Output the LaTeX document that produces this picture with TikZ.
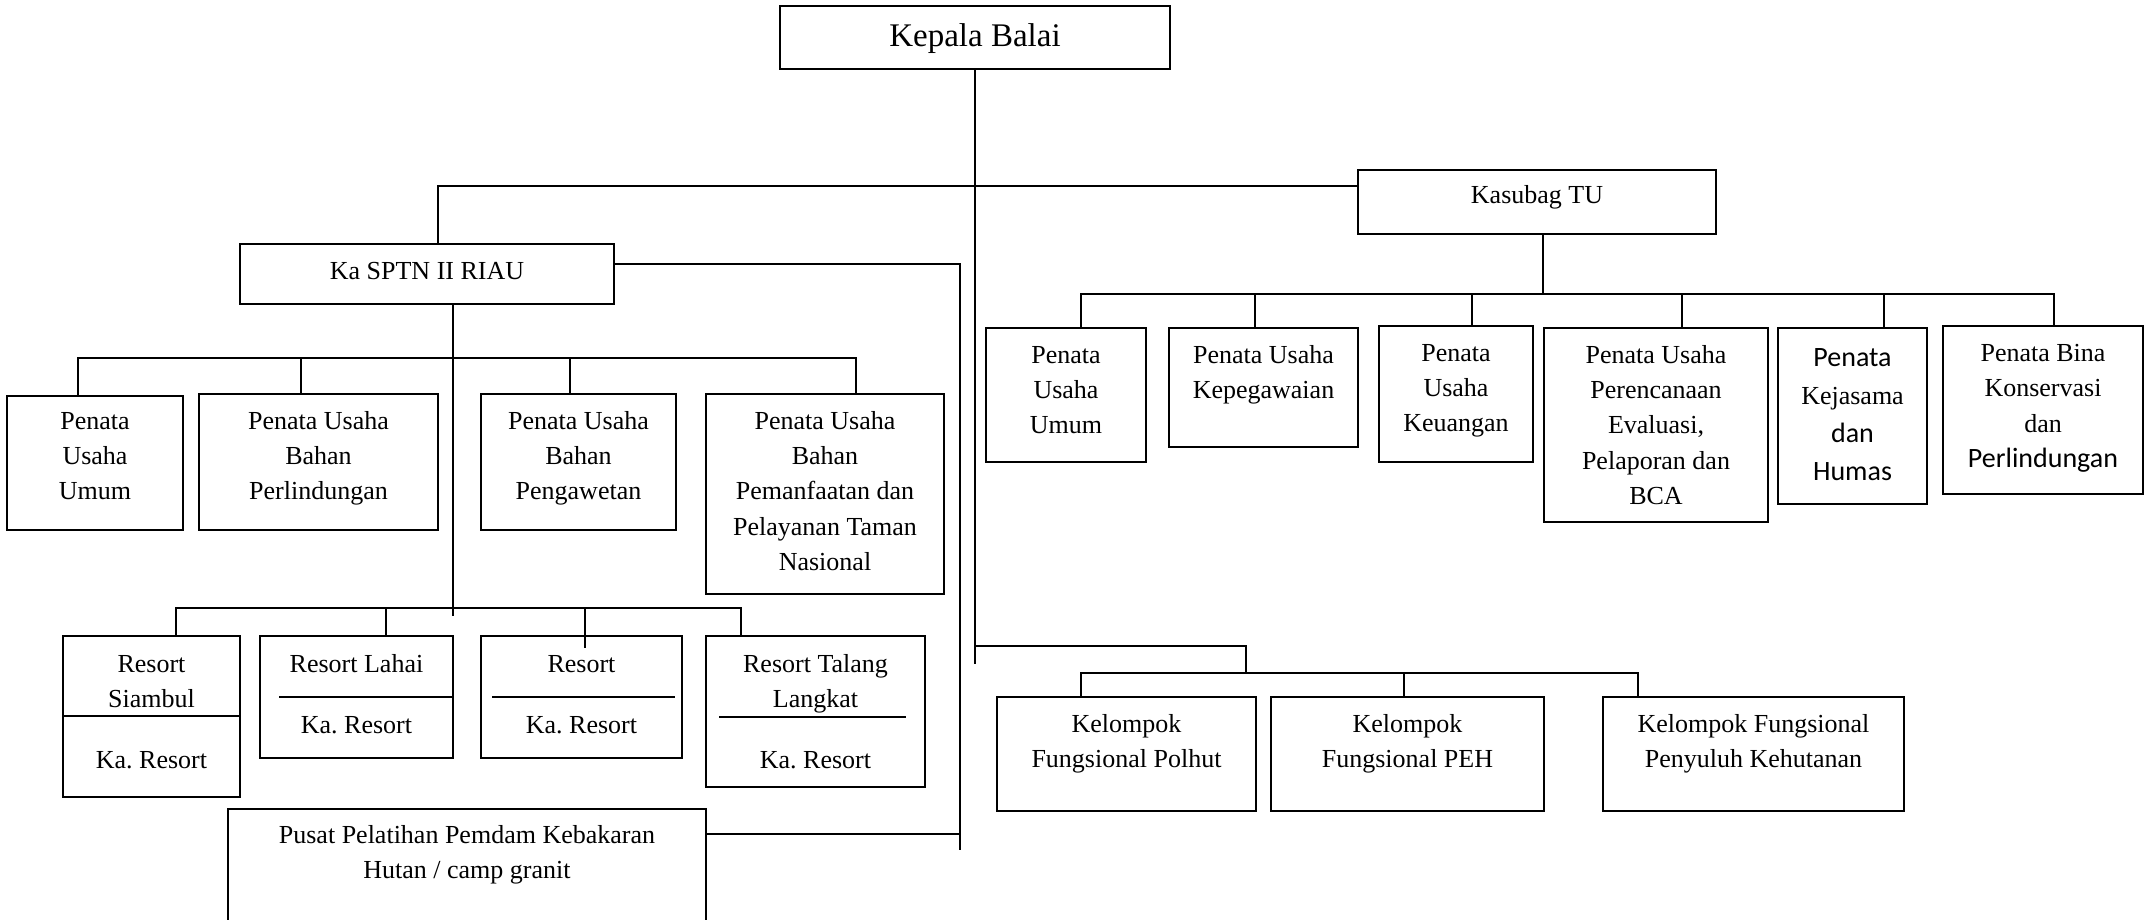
\documentclass[tikz,border=0pt]{standalone}
\usepackage{fontspec}
\setmainfont{Liberation Serif}
\newfontfamily\carlfont{Carlito}
\newcommand\sansC{\carlfont\fontsize{14}{19}\selectfont}
\usetikzlibrary{fit}
\frenchspacing
\tikzset{
  box/.style={draw, line width=0.9pt, inner sep=0pt},
  conn/.style={line width=0.7pt},
  divline/.style={line width=0.9pt},
  txt/.style={font=\fontsize{13}{17.6}\selectfont, align=center, inner sep=0pt, anchor=north},
  one/.style={font=\fontsize{13}{17.6}\selectfont, inner sep=0pt, anchor=base},
}
\begin{document}
\begin{tikzpicture}[x=0.5pt, y=-0.5pt]
\useasboundingbox (0,0) rectangle (2156,920);

% ---------- boxes ----------
\node[box, fit={(780,6) (1170,69)}] (kb) {};
\node[box, fit={(1358,170) (1716,234)}] (kas) {};
\node[box, fit={(240,244) (614,304)}] (sptn) {};
\node[box, fit={(7,396) (183,530)}] (pl1) {};
\node[box, fit={(199,394) (438,530)}] (pl2) {};
\node[box, fit={(481,394) (676,530)}] (pl3) {};
\node[box, fit={(706,394) (944,594)}] (pl4) {};
\node[box, fit={(986,328) (1146,462)}] (pr1) {};
\node[box, fit={(1169,328) (1358,447)}] (pr2) {};
\node[box, fit={(1379,326) (1533,462)}] (pr3) {};
\node[box, fit={(1544,328) (1768,522)}] (pr4) {};
\node[box, fit={(1778,328) (1927,504)}] (pr5) {};
\node[box, fit={(1943,326) (2143,494)}] (pr6) {};
\node[box, fit={(63,636) (240,797)}] (r1) {};
\node[box, fit={(260,636) (453,758)}] (r2) {};
\node[box, fit={(481,636) (682,758)}] (r3) {};
\node[box, fit={(706,636) (925,787)}] (r4) {};
\node[box, fit={(228,809) (706,930)}] (pusat) {};
\node[box, fit={(997,697) (1256,811)}] (k1) {};
\node[box, fit={(1271,697) (1544,811)}] (k2) {};
\node[box, fit={(1603,697) (1904,811)}] (k3) {};

% dividers inside resort boxes
\draw[divline] (63,716) -- (240,716);
\draw[divline] (279,697) -- (453,697);
\draw[divline] (492,697) -- (675,697);
\draw[divline] (719,717) -- (906,717);

% ---------- texts ----------
\node[one, font=\fontsize{16.5}{20}\selectfont] (kb-t) at (975,47) {Kepala Balai};
\node[one] (kas-t) at (1537,203) {Kasubag TU};
\node[one] (sptn-t) at (427,279) {Ka SPTN II RIAU};

\node[txt] (pl1-t) at (95,404.4) {\strut Penata\\Usaha\\Umum};
\node[txt] (pl2-t) at (318.5,404.4) {\strut Penata Usaha\\Bahan\\Perlindungan};
\node[txt] (pl3-t) at (578.5,404.4) {\strut Penata Usaha\\Bahan\\Pengawetan};
\node[txt] (pl4-t) at (825,404.4) {\strut Penata Usaha\\Bahan\\Pemanfaatan dan\\Pelayanan Taman\\Nasional};

\node[txt] (pr1-t) at (1066,338.4) {\strut Penata\\Usaha\\Umum};
\node[txt] (pr2-t) at (1263.5,338.4) {\strut Penata Usaha\\Kepegawaian};
\node[txt] (pr3-t) at (1456,336.4) {\strut Penata\\Usaha\\Keuangan};
\node[txt] (pr4-t) at (1656,338.4) {\strut Penata Usaha\\Perencanaan\\Evaluasi,\\Pelaporan dan\\BCA};
\node[txt, font=\fontsize{13}{19}\selectfont] (pr5-t) at (1852.5,339.4) {\strut{\sansC Penata}\\Kejasama\\{\sansC dan}\\{\sansC Humas}};
\node[txt, font=\fontsize{13}{17.75}\selectfont] (pr6-t) at (2043,336.2) {\strut Penata Bina\\Konservasi\\dan\\{\sansC Perlindungan}};

\node[txt] (r1-t) at (151.5,647.4) {\strut Resort\\Siambul};
\node[one] (r1-b) at (151.5,768) {Ka. Resort};
\node[one] (r2-t) at (356.5,672) {Resort Lahai};
\node[one] (r2-b) at (356.5,733) {Ka. Resort};
\node[one] (r3-t) at (581.5,672) {Resort};
\node[one] (r3-b) at (581.5,733) {Ka. Resort};
\node[txt] (r4-t) at (815.5,647.4) {\strut Resort Talang\\Langkat};
\node[one] (r4-b) at (815.5,768) {Ka. Resort};

\node[txt] (pusat-t) at (467,818.4) {\strut Pusat Pelatihan Pemdam Kebakaran\\Hutan / camp granit};

\node[txt] (k1-t) at (1126.5,707.4) {\strut Kelompok\\Fungsional Polhut};
\node[txt] (k2-t) at (1407.5,707.4) {\strut Kelompok\\Fungsional PEH};
\node[txt] (k3-t) at (1753.5,707.4) {\strut Kelompok Fungsional\\Penyuluh Kehutanan};

% ---------- connector coordinates ----------
\coordinate (mj) at (975,664);
\coordinate (busL) at (438,186);
\coordinate (sr) at (960,264);
\coordinate (srE) at (960,850);
\coordinate (pj) at (960,834);
\coordinate (sd) at (453,616);
\coordinate (plb1) at (78,358);
\coordinate (plb2) at (856,358);
\coordinate (pld2) at (301,358);
\coordinate (pld3) at (570,358);
\coordinate (rb1) at (176,608);
\coordinate (rb2) at (741,608);
\coordinate (rd2) at (386,608);
\coordinate (rd3) at (585,608);
\coordinate (rd3e) at (585,648);
\coordinate (kd) at (1543,294);
\coordinate (rbus1) at (1081,294);
\coordinate (rbus6) at (2054,294);
\coordinate (rd2r) at (1255,294);
\coordinate (rd3r) at (1472,294);
\coordinate (rd4r) at (1682,294);
\coordinate (rd5r) at (1884,294);
\coordinate (kj1) at (975,646);
\coordinate (kj2) at (1246,646);
\coordinate (kj3) at (1246,673);
\coordinate (kbus1) at (1081,673);
\coordinate (kbus3) at (1638,673);
\coordinate (kd2) at (1404,673);

% ---------- connectors ----------
\draw[conn] (kb.south) -- (mj);
\draw[conn] (busL |- sptn.north) -- (busL) -- (kas.west |- busL);
\draw[conn] (sptn.east |- sr) -- (sr) -- (srE);
\draw[conn] (pusat.east |- pj) -- (pj);

\draw[conn] (sptn.south -| sd) -- (sd);
\draw[conn] (plb1 |- pl1.north) -- (plb1) -- (plb2) -- (plb2 |- pl4.north);
\draw[conn] (pld2) -- (pld2 |- pl2.north);
\draw[conn] (pld3) -- (pld3 |- pl3.north);

\draw[conn] (rb1 |- r1.north) -- (rb1) -- (rb2) -- (rb2 |- r4.north);
\draw[conn] (rd2) -- (rd2 |- r2.north);
\draw[conn] (rd3) -- (rd3e);

\draw[conn] (kas.south -| kd) -- (kd);
\draw[conn] (rbus1 |- pr1.north) -- (rbus1) -- (rbus6) -- (rbus6 |- pr6.north);
\draw[conn] (rd2r) -- (rd2r |- pr2.north);
\draw[conn] (rd3r) -- (rd3r |- pr3.north);
\draw[conn] (rd4r) -- (rd4r |- pr4.north);
\draw[conn] (rd5r) -- (rd5r |- pr5.north);

\draw[conn] (kj1) -- (kj2) -- (kj3);
\draw[conn] (kbus1 |- k1.north) -- (kbus1) -- (kbus3) -- (kbus3 |- k3.north);
\draw[conn] (kd2) -- (kd2 |- k2.north);
\end{tikzpicture}
\end{document}
